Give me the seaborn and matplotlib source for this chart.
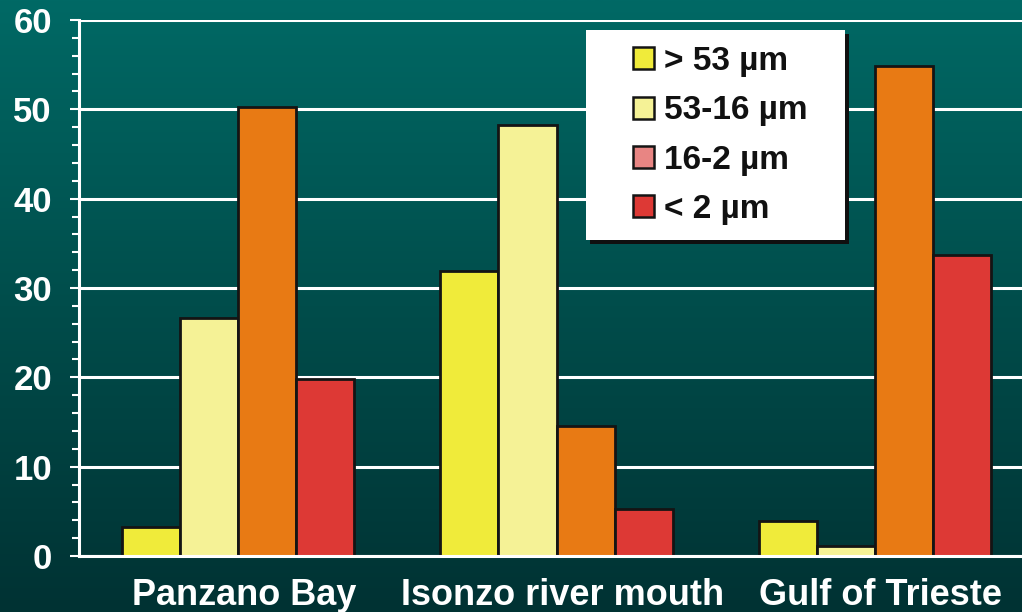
import numpy as np
import pandas as pd
import matplotlib
matplotlib.use("Agg")
import matplotlib.pyplot as plt
import matplotlib.transforms as mtransforms
import seaborn as sns
from matplotlib.patches import Patch, Rectangle
from matplotlib.colors import LinearSegmentedColormap
from matplotlib.ticker import MultipleLocator

# ---- data ----
sites = ["Panzano Bay", "Isonzo river mouth", "Gulf of Trieste"]
fractions = ["> 53 µm", "53-16 µm", "16-2 µm", "< 2 µm"]
gt53 = [3.3, 31.9, 3.9]
f53_16 = [26.6, 48.2, 1.1]
f16_2 = [50.3, 14.6, 54.8]
lt2 = [19.8, 5.3, 33.7]
yticks = [0, 10, 20, 30, 40, 50, 60]

bar_colors = ["#F0EB3A", "#F5F296", "#E87A14", "#DD3935"]
legend_colors = ["#F0EB3A", "#F5F296", "#E88583", "#DD3935"]

df = pd.DataFrame({
    "site": sites * 4,
    "fraction": [f for f in fractions for _ in sites],
    "value": gt53 + f53_16 + f16_2 + lt2,
})

sns.set_theme(style="white")
plt.rcParams["font.family"] = ["Liberation Sans", "DejaVu Sans"]
plt.rcParams["font.weight"] = "bold"

W, H = 1022, 612
fig = plt.figure(figsize=(W / 100, H / 100), dpi=100)

# gradient background
bg = fig.add_axes([0, 0, 1, 1], zorder=0)
cmap = LinearSegmentedColormap.from_list("bg", ["#006965", "#004D4B", "#003233"])
bg.imshow(np.linspace(0, 1, 256).reshape(-1, 1), aspect="auto", cmap=cmap,
          extent=[0, 1, 0, 1])
bg.set_axis_off()

x0, x1 = 79, 1022
y_top, y_bot = 20, 556
ax = fig.add_axes([x0 / W, 1 - y_bot / H, (x1 - x0) / W, (y_bot - y_top) / H], zorder=1)
ax.set_facecolor("none")

sns.barplot(data=df, x="site", y="value", hue="fraction", order=sites,
            hue_order=fractions, palette=bar_colors, saturation=1, width=0.73,
            gap=0, edgecolor="#141414", linewidth=2.0, legend=False, ax=ax,
            zorder=3)

ax.set_xlim(-0.5, 2.462)
ax.set_ylim(0, 60)
ax.set_yticks(yticks)
ax.yaxis.set_minor_locator(MultipleLocator(2))
ax.set_xlabel("")
ax.set_ylabel("")

ax.grid(axis="y", which="major", color="white", linewidth=2.2, zorder=1)
ax.set_axisbelow(True)
for s in ["top", "right"]:
    ax.spines[s].set_visible(False)
for s in ["left", "bottom"]:
    ax.spines[s].set_color("white")
    ax.spines[s].set_linewidth(2.2)
    ax.spines[s].set_zorder(4)

ax.tick_params(axis="y", which="major", direction="out", length=6.5, width=1.5,
               color="white", labelcolor="white", labelsize=25, pad=13, left=True)
ax.tick_params(axis="y", which="minor", direction="out", length=5, width=1.5,
               color="white", left=True)
ax.tick_params(axis="x", length=0, labelcolor="white", labelsize=26, pad=16)
for lbl in ax.get_yticklabels():
    lbl.set_fontweight("bold")
shift = mtransforms.ScaledTranslation(6 / 100, 0, fig.dpi_scale_trans)
for lbl in ax.get_xticklabels():
    lbl.set_fontweight("bold")
    lbl.set_transform(lbl.get_transform() + shift)

# legend box with shadow
bx0, bx1, by0, by1 = 586, 845, 30, 240
def to_ax(px, py):
    return (px - x0) / (x1 - x0), (y_bot - py) / (y_bot - y_top)
lx, ltop = to_ax(bx0, by0)
rx, lbot = to_ax(bx1, by1)
sx, sy = 4 / (x1 - x0), 4 / (y_bot - y_top)
ax.add_patch(Rectangle((lx + sx, lbot - sy), rx - lx, ltop - lbot, transform=ax.transAxes,
                       facecolor="#101010", edgecolor="none", zorder=5, clip_on=False))
ax.add_patch(Rectangle((lx, lbot), rx - lx, ltop - lbot, transform=ax.transAxes,
                       facecolor="white", edgecolor="none", zorder=6, clip_on=False))

handles = [Patch(facecolor=c, edgecolor="#141414", linewidth=1.8, label=f)
           for c, f in zip(legend_colors, fractions)]
hx, hy = to_ax(633, 46)
leg = ax.legend(handles=handles, loc="upper left", bbox_to_anchor=(hx, hy),
                frameon=False, handlelength=0.64, handleheight=0.64,
                handletextpad=0.28, labelspacing=0.55, borderpad=0, borderaxespad=0,
                prop={"weight": "bold", "size": 24})
leg.set_zorder(7)
for t in leg.get_texts():
    t.set_color("#111111")

fig.savefig("out.png", dpi=100)
